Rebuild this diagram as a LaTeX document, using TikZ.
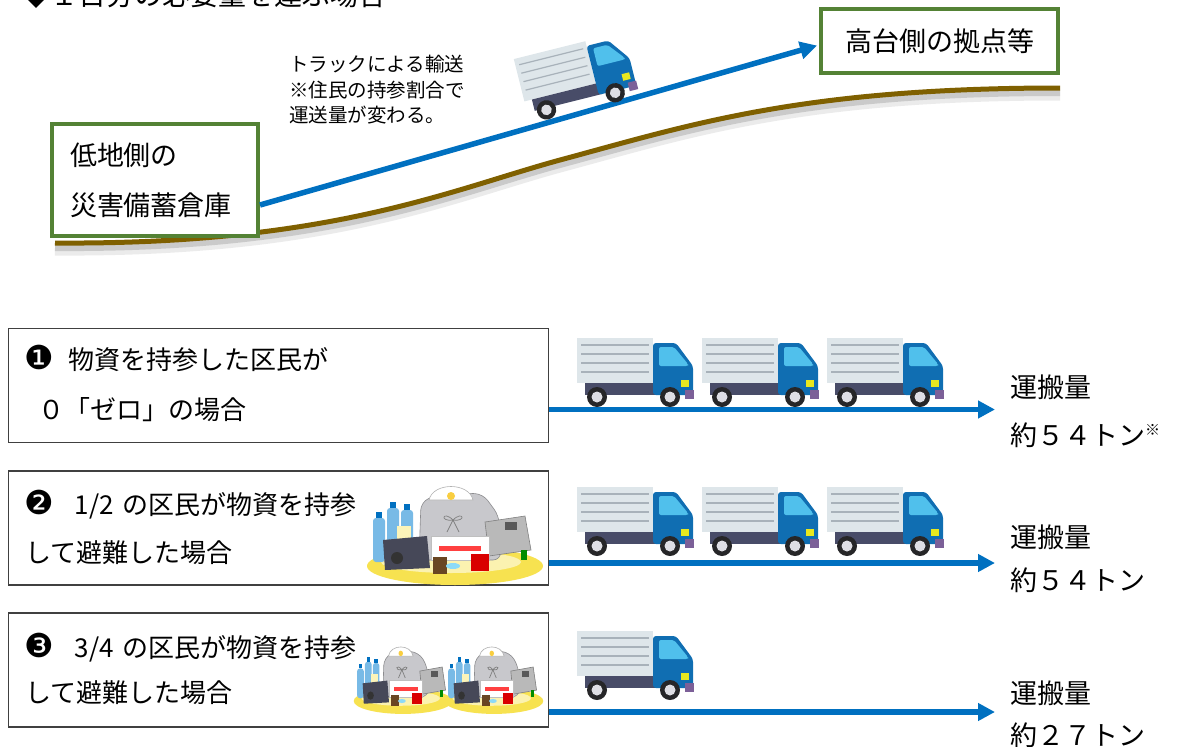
\documentclass[tikz,border=0pt]{standalone}
\usepackage{fontspec}
\setmainfont{Noto Sans CJK JP}
\newfontfamily\dingfont{DejaVu Sans}
\usetikzlibrary{arrows.meta}
\definecolor{sitegreen}{RGB}{84,130,53}
\definecolor{groundbrown}{RGB}{127,96,0}
\definecolor{routeblue}{RGB}{0,112,192}
\definecolor{casegray}{RGB}{64,64,64}
\definecolor{cargo}{RGB}{222,230,234}
\definecolor{cargoline}{RGB}{168,178,186}
\definecolor{cab}{RGB}{16,110,178}
\definecolor{glass}{RGB}{80,192,236}
\definecolor{chassis}{RGB}{72,76,104}
\definecolor{tyre}{RGB}{38,38,40}
\definecolor{hub}{RGB}{222,222,228}
\definecolor{lamp}{RGB}{232,232,30}
\definecolor{bumper}{RGB}{124,96,152}
\definecolor{supbase}{RGB}{247,226,80}
\definecolor{bag}{RGB}{200,200,204}
\definecolor{bottle}{RGB}{120,186,230}
\definecolor{radio}{RGB}{70,72,88}
\tikzstyle{site} = [draw=sitegreen, line width=4pt, fill=white, inner sep=0pt]
\tikzstyle{case} = [draw=casegray, line width=1.4pt, fill=white, minimum width=540pt, minimum height=114pt]
\tikzstyle{arrow} = [draw=routeblue, line width=5.5pt, -{Triangle[length=17pt,width=17pt]}]
\tikzstyle{ground} = [draw=groundbrown, line width=5pt]
\tikzstyle{casetext} = [anchor=west, inner sep=0pt, font=\fontsize{26}{26}\selectfont]
\tikzstyle{amount} = [anchor=west, inner sep=0pt, align=left]
\newcommand{\casemark}[1]{{\dingfont\fontsize{33}{33}\selectfont #1}}
\tikzset{
  truck/.pic={
    \fill[cargo] (0,-69) rectangle (76,-24);
    \foreach \h in {-62,-53,-44,-35}
      \draw[cargoline, line width=1.2pt] (4,\h) -- (72,\h);
    \fill[chassis] (8,-24) rectangle (80,-12);
    \fill[cab, rounded corners=3pt] (76,-12) -- (76,-64) -- (99,-64) -- (116,-41) -- (116,-12) -- cycle;
    \fill[glass, rounded corners=2pt] (82,-41) -- (82,-60) -- (97,-60) -- (111,-43) -- (111,-41) -- cycle;
    \fill[lamp] (104,-20) rectangle (112,-27);
    \fill[bumper] (108,-8) rectangle (117,-17);
    \foreach \w in {20,93} {
      \fill[tyre] (\w,-10) circle (10);
      \fill[hub] (\w,-10) circle (5.5);
    }
  },
  supplies/.pic={
    \fill[supbase] (0,0) ellipse (88 and 19);
    \fill[supbase!45!white] (-4,-4) ellipse (70 and 11);
    \filldraw[fill=bag, draw=bag!70!black, line width=0.6pt, rounded corners=8pt]
      (-36,-6) -- (-34,-64) -- (-12,-74) -- (28,-72) -- (44,-50) -- (46,-6) -- cycle;
    \filldraw[fill=white, draw=gray!60, line width=0.6pt] (-26,-66) .. controls (-22,-84) and (14,-84) .. (18,-66) -- cycle;
    \fill[supbase!80!orange] (-4,-70) circle (4);
    \draw[gray, line width=0.7pt] (-2,-46) .. controls (-12,-56) and (-16,-44) .. (-2,-46)
      .. controls (8,-56) and (12,-44) .. (-2,-46) -- (-8,-34) (-2,-46) -- (4,-34);
    \filldraw[fill=gray!55, draw=gray, line width=0.6pt] (34,-10) -- (30,-44) -- (70,-50) -- (76,-16) -- cycle;
    \fill[black!65] (50,-44) rectangle (62,-36);
    \fill[green!55!black] (66,-16) rectangle (72,-6);
    \foreach \bx/\bt in {-76/-48,-62/-58,-48/-56} {
      \fill[bottle, rounded corners=3pt] (\bx-6,-4) rectangle (\bx+6,\bt);
      \fill[routeblue] (\bx-3,\bt) rectangle (\bx+3,\bt-6);
    }
    \fill[supbase!40!white] (-58,-40) rectangle (-44,-22);
    \fill[radio] (-72,-26) -- (-28,-30) -- (-25,2) -- (-70,4) -- cycle;
    \fill[black!80] (-58,-8) circle (6);
    \filldraw[fill=white, draw=gray!50, line width=0.5pt] (-24,-30) rectangle (34,-6);
    \fill[red!75] (-16,-20) rectangle (26,-15);
    \fill[red!85!black] (16,-12) rectangle (34,5);
    \fill[brown!55!black] (-22,-9) rectangle (-8,8);
    \fill[cyan!45] (-2,0) ellipse (7 and 3);
  }
}
\begin{document}
\begin{tikzpicture}[x=1pt, y=-1pt]
\useasboundingbox (0,0) rectangle (1179,747);
\clip (0,0) rectangle (1179,747);
\node (title) [anchor=base west, inner sep=0pt, font=\fontsize{28}{28}\selectfont] at (22,5) {◆１日分の必要量を運ぶ場合};
\draw [ground, preaction={draw=black, opacity=0.08, line width=11pt, transform canvas={yshift=-7pt}}, preaction={draw=black, opacity=0.14, line width=6pt, transform canvas={yshift=-5pt}}]
  (55,243) .. controls (330,245) and (450,190) .. (560,160) .. controls (690,125) and (800,88) .. (1060,88);
\node (low) [site, minimum width=206pt, minimum height=112pt, text width=170pt, align=left, font=\fontsize{27}{50}\selectfont] at (155,180) {低地側の\\災害備蓄倉庫};
\node (high) [site, minimum width=237pt, minimum height=64pt, font=\fontsize{27}{27}\selectfont] at (939.5,41) {高台側の拠点等};
\draw [arrow, shorten >=2pt] ([yshift=-25pt]low.east) -- ([yshift=-4pt]high.west);
\pic [rotate=14, scale=0.97] at (530,124) {truck};
\node (note) [anchor=west, inner sep=0pt, align=left, font=\fontsize{19.5}{25.5}\selectfont] at (289,90) {トラックによる輸送\\※住民の持参割合で\\運送量が変わる。};
\node (case1) [case] at (278.5,385.5) {};
\node (case2) [case] at (278.5,528) {};
\node (case3) [case] at (278.5,670) {};
\node (c1a) [casetext] at (24,358) {\casemark{❶}\hspace{15pt}物資を持参した区民が};
\node (c1b) [casetext] at (38,410) {０「ゼロ」の場合};
\node (c2a) [casetext] at (24,505) {\casemark{❷}\hspace{21pt}1/2\hspace{9pt}の区民が物資を持参};
\node (c2b) [casetext] at (25,553) {して避難した場合};
\node (c3a) [casetext] at (24,648) {\casemark{❸}\hspace{21pt}3/4\hspace{9pt}の区民が物資を持参};
\node (c3b) [casetext] at (25,693) {して避難した場合};
\pic at (455,566) {supplies};
\pic [xscale=0.56, yscale=0.68] at (403,701) {supplies};
\pic [xscale=0.56, yscale=0.68] at (494,701) {supplies};
\coordinate (end1) at (995,409.5);
\coordinate (end2) at (995,563);
\coordinate (end3) at (995,712);
\draw [arrow] ([yshift=-24pt]case1.east) -- (end1);
\draw [arrow] ([yshift=-35pt]case2.east) -- (end2);
\draw [arrow] ([yshift=-42pt]case3.east) -- (end3);
\foreach \tx in {577,702,827} {
  \pic at (\tx,407) {truck};
  \pic at (\tx,556) {truck};
}
\pic at (577,700) {truck};
\node (amt1) [amount, font=\fontsize{27}{48}\selectfont] at (1010,411) {運搬量\\約５４トン\raisebox{10pt}{\fontsize{15}{15}\selectfont ※}};
\node (amt2) [amount, font=\fontsize{27}{43}\selectfont] at (1010,558.5) {運搬量\\約５４トン};
\node (amt3) [amount, font=\fontsize{27}{42}\selectfont] at (1010,714) {運搬量\\約２７トン};
\end{tikzpicture}
\end{document}
